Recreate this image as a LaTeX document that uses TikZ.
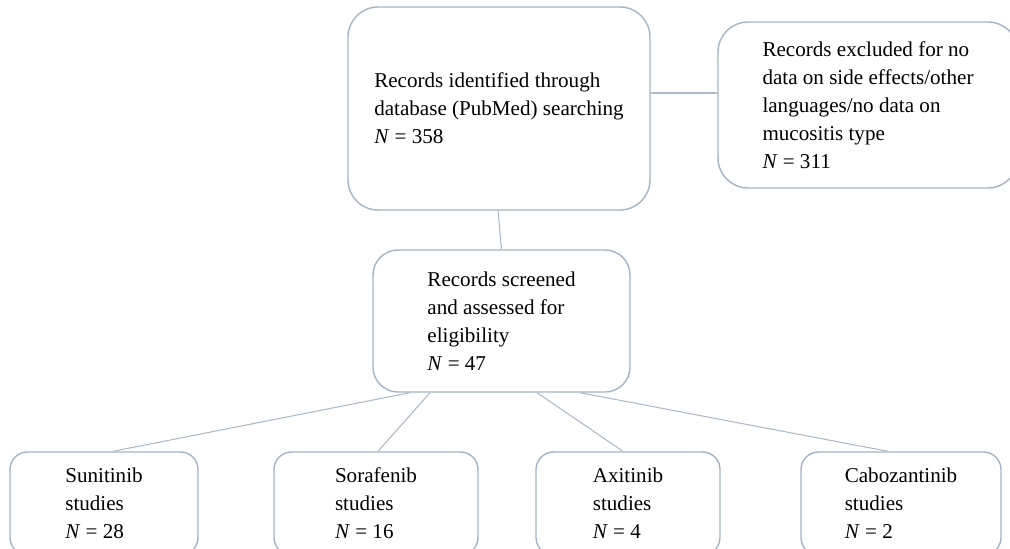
\documentclass[tikz,border=0pt]{standalone}
\usepackage{fontspec}
\setmainfont{Liberation Serif}
\usepackage{xcolor}
\usetikzlibrary{positioning}
\definecolor{boxline}{RGB}{165,180,196}
\definecolor{linkline}{RGB}{172,186,200}
\tikzset{
	flowbox/.style={draw=boxline, line width=0.8pt, rounded corners=0.6cm, align=left, inner sep=0pt, font=\fontsize{12}{15.9}\selectfont},
	studybox/.style={flowbox, rounded corners=0.35cm, minimum height=2.06cm},
	link/.style={draw=linkline, line width=0.6pt}
}
\begin{document}
\begin{tikzpicture}
	\useasboundingbox (0,0) rectangle (20.2,-10.96);
	
	%RECORDS
	%boxes
	\node[flowbox, minimum width=6.04cm, minimum height=4.06cm] (ident) at (9.98,-2.17) {Records identified through\\database (PubMed) searching\\\textit{N}~=~358};
	\node[flowbox, minimum width=6.0cm, minimum height=3.32cm] (excl) at (17.36,-2.10) {Records excluded for no\\data on side effects/other\\languages/no data on\\mucositis type\\\textit{N} = 311};
	\node[flowbox, rounded corners=0.5cm, minimum width=5.14cm, minimum height=2.84cm] (screen) at (10.03,-6.42) {Records screened\\and assessed for\\eligibility\\\textit{N} = 47};
	
	%STUDIES
	%boxes
	\node[studybox, minimum width=3.76cm] (suni) at (2.08,-10.07) {Sunitinib\\studies\\\textit{N}~=~28};
	\node[studybox, minimum width=4.08cm] (sora) at (7.52,-10.07) {Sorafenib\\studies\\\textit{N}~=~16};
	\node[studybox, minimum width=3.68cm] (axi) at (12.56,-10.07) {Axitinib\\studies\\\textit{N}~=~4};
	\node[studybox, minimum width=4.0cm] (cabo) at (18.02,-10.07) {Cabozantinib\\studies\\\textit{N}~=~2};
	
	%lines
	\draw[link] ([yshift=3.1mm]ident.east) -- ([yshift=3.1mm]ident.east -| excl.west);
	\draw[link] ([xshift=-0.2mm]ident.south) -- (screen.north);
	\draw[link] ([xshift=-18.3mm]screen.south) -- ([xshift=1.8mm]suni.north);
	\draw[link] ([xshift=-14.3mm]screen.south) -- ([xshift=0.4mm]sora.north);
	\draw[link] ([xshift=7.1mm]screen.south) -- ([xshift=-1mm]axi.north);
	\draw[link] ([xshift=15.7mm]screen.south) -- ([xshift=-2.6mm]cabo.north);
	
\end{tikzpicture}
\end{document}
